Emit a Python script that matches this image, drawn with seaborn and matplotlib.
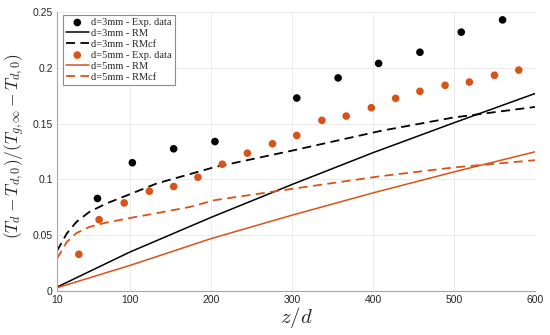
import numpy as np
import pandas as pd
import matplotlib
matplotlib.use("Agg")
import matplotlib.pyplot as plt
import seaborn as sns

# experimental points
z_exp3 = [60, 103, 154, 205, 306, 357, 407, 458, 509, 560]
t_exp3 = [0.083, 0.115, 0.1275, 0.134, 0.173, 0.191, 0.204, 0.214, 0.232, 0.243]
z_exp5 = [37, 62, 93, 124, 154, 184, 214, 245, 276, 306, 337, 367, 398, 428, 458, 489, 519, 550, 580]
t_exp5 = [0.033, 0.064, 0.079, 0.0895, 0.0937, 0.102, 0.1137, 0.1236, 0.132, 0.1395,
          0.153, 0.1568, 0.1643, 0.1727, 0.179, 0.1844, 0.1873, 0.1934, 0.198]

# RM model (nearly straight)
z_rm = [10, 100, 200, 300, 400, 500, 600]
t_rm3 = [0.0036, 0.035, 0.066, 0.0955, 0.124, 0.1508, 0.177]
t_rm5 = [0.003, 0.023, 0.047, 0.068, 0.088, 0.1068, 0.1248]

# RMcf model
z_cf = [10, 22, 34, 50, 71, 100, 133, 174, 204, 303, 410, 500, 600]
t_cf3 = [0.036, 0.0515, 0.062, 0.071, 0.0785, 0.0868, 0.0964, 0.1048, 0.111, 0.1263, 0.1436, 0.1556, 0.165]
t_cf5 = [0.029, 0.044, 0.052, 0.0575, 0.0614, 0.0655, 0.0698, 0.0754, 0.0814, 0.0919, 0.103, 0.1108, 0.1173]

xticks = [10, 100, 200, 300, 400, 500, 600]
yticks = [0, 0.05, 0.1, 0.15, 0.2, 0.25]
ytick_labels = ["0", "0.05", "0.1", "0.15", "0.2", "0.25"]

orange = "#D95319"
dash = (0, (5, 3))

sns.set_style("white")
plt.rcParams["mathtext.fontset"] = "cm"
plt.rcParams["font.family"] = ["Liberation Sans", "DejaVu Sans"]

fig = plt.figure(figsize=(5.5, 3.35), dpi=100)
ax = fig.add_axes([0.1036, 0.131, 0.8691, 0.833])

sns.scatterplot(x=z_exp3, y=t_exp3, color="black", s=30, edgecolor="none",
                label="d=3mm - Exp. data", ax=ax, zorder=3)
sns.lineplot(x=z_rm, y=t_rm3, color="black", lw=1.1, label="d=3mm - RM", ax=ax)
sns.lineplot(x=z_cf, y=t_cf3, color="black", lw=1.3, linestyle=dash,
             label="d=3mm - RMcf", ax=ax)
sns.scatterplot(x=z_exp5, y=t_exp5, color=orange, s=30, edgecolor="none",
                label="d=5mm - Exp. data", ax=ax, zorder=3)
sns.lineplot(x=z_rm, y=t_rm5, color=orange, lw=1.1, label="d=5mm - RM", ax=ax)
sns.lineplot(x=z_cf, y=t_cf5, color=orange, lw=1.3, linestyle=dash,
             label="d=5mm - RMcf", ax=ax)

ax.set_xlim(10, 600)
ax.set_ylim(0, 0.25)
ax.set_xticks(xticks)
ax.set_yticks(yticks)
ax.set_yticklabels(ytick_labels)
ax.grid(True, color="#ebebeb", lw=0.7)
ax.set_axisbelow(True)
for side in ["top", "right"]:
    ax.spines[side].set_visible(False)
for side in ["left", "bottom"]:
    ax.spines[side].set_color("#a6a6a6")
    ax.spines[side].set_linewidth(0.8)
ax.tick_params(direction="in", length=3, width=0.6, color="#a6a6a6",
               labelsize=7.5, labelcolor="#262626", pad=3)

ax.set_xlabel(r"$z/d$", fontsize=15, labelpad=0)
ax.set_ylabel(r"$(T_d-T_{d,0})/(T_{g,\infty}-T_{d,0})$", fontsize=12.5)
ax.yaxis.set_label_coords(-0.062, 0.52)

leg = ax.legend(loc="upper left", bbox_to_anchor=(0.012, 0.99), frameon=True,
                fancybox=False, framealpha=1, edgecolor="#8c8c8c",
                prop={"family": "Liberation Serif", "size": 7.5},
                handlelength=2.2, handletextpad=0.2, labelspacing=0.15,
                borderpad=0.3, borderaxespad=0)
leg.get_frame().set_linewidth(0.8)

fig.savefig("out.png", dpi=100)
